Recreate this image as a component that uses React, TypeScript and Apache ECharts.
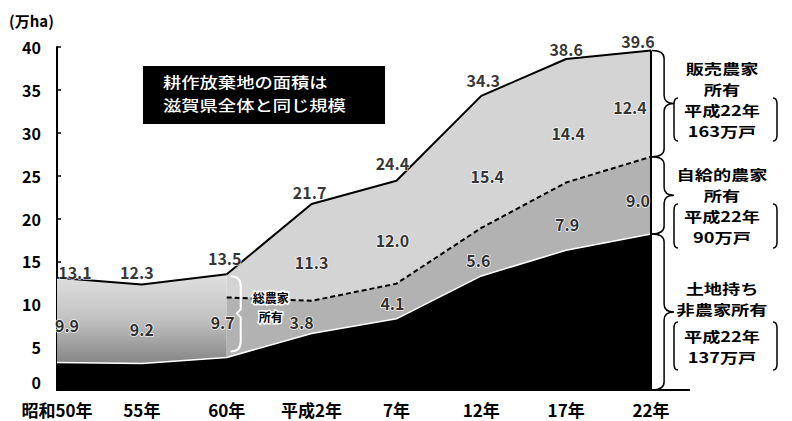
import React, { useEffect, useRef } from "react";
import * as echarts from "echarts";

const categories = ["昭和50年", "55年", "60年", "平成2年", "7年", "12年", "17年", "22年"];
const totalArea = [13.1, 12.3, 13.5, 21.7, 24.4, 34.3, 38.6, 39.6];
const nonFarmArea = [3.2, 3.1, 3.8, 6.6, 8.3, 13.3, 16.3, 18.2];
const allFarmArea: (number | null)[] = [9.9, 9.2, 9.7, null, null, null, null, null];
const subsistenceArea: (number | null)[] = [null, null, 7.0, 3.8, 4.1, 5.6, 7.9, 9.0];
const commercialArea: (number | null)[] = [null, null, 2.7, 11.3, 12.0, 15.4, 14.4, 12.4];
const yTicks = { min: 0, max: 40, interval: 5 };

// label offsets (style only)
const totalOffsets = [[18, -6], [-5, -13], [-2, -16], [-2, -12], [-4, -18], [2, -16], [0, -10], [-13, -9]];
const allFarmOffsets = [[10, 5], [0, 5], [-4, 6]];
const subsOffsets: Record<number, number[]> = { 3: [-10, 5], 4: [-4, 2], 5: [-3, 8], 6: [1, 8], 7: [-13, 5] };
const commOffsets: Record<number, number[]> = { 3: [0, 10], 4: [-4, 8], 5: [6, 14], 6: [2, 12], 7: [-21, 3] };

const JP = '"Noto Sans CJK JP", "Noto Sans CJK SC", sans-serif';

const Brace = echarts.graphic.extendShape({
  shape: { x: 0, y1: 0, y2: 0, w: 20, dir: 1 },
  buildPath(ctx: any, s: any) {
    const { x, y1, y2, w, dir } = s;
    const m = (y1 + y2) / 2;
    const r = Math.min(8, (y2 - y1) / 6);
    const xb = x + dir * w * 0.55;
    const xt = x + dir * w;
    ctx.moveTo(x, y1);
    ctx.quadraticCurveTo(xb, y1, xb, y1 + r);
    ctx.lineTo(xb, m - r);
    ctx.quadraticCurveTo(xb, m, xt, m);
    ctx.quadraticCurveTo(xb, m, xb, m + r);
    ctx.lineTo(xb, y2 - r);
    ctx.quadraticCurveTo(xb, y2, x, y2);
  },
});
echarts.graphic.registerShape("brace", Brace);

const Paren = echarts.graphic.extendShape({
  shape: { x: 0, y1: 0, y2: 0, dir: 1 },
  buildPath(ctx: any, s: any) {
    const { x, y1, y2, dir } = s;
    const r = 6;
    ctx.moveTo(x + dir * 4, y1);
    ctx.quadraticCurveTo(x, y1, x, y1 + r);
    ctx.lineTo(x, y2 - r);
    ctx.quadraticCurveTo(x, y2, x + dir * 4, y2);
  },
});
echarts.graphic.registerShape("paren", Paren);

const NotchEdge = echarts.graphic.extendShape({
  shape: { x: 0, y1: 0, y2: 0, r: 8, n: 5, ym: 0 },
  buildPath(ctx: any, s: any) {
    const { x, y1, y2, r, n, ym } = s;
    ctx.moveTo(x - r, y1);
    ctx.quadraticCurveTo(x, y1, x, y1 + r);
    ctx.lineTo(x, ym - n);
    ctx.lineTo(x - n, ym);
    ctx.lineTo(x, ym + n);
    ctx.lineTo(x, y2 - r);
    ctx.quadraticCurveTo(x, y2, x - r, y2);
  },
});
echarts.graphic.registerShape("notchEdge", NotchEdge);

const valueLabel = {
  show: true,
  position: "inside",
  fontFamily: JP,
  fontWeight: "bold",
  fontSize: 16,
  color: "#000",
  textBorderColor: "#fff",
  textBorderWidth: 1.5,
};

function buildLabelData() {
  const items: any[] = [];
  categories.forEach((c, i) => {
    items.push({ value: [c, totalArea[i]], label: { formatter: totalArea[i].toFixed(1), offset: totalOffsets[i] } });
    const a = allFarmArea[i];
    if (a != null) {
      items.push({ value: [c, nonFarmArea[i] + a / 2], label: { formatter: a.toFixed(1), offset: allFarmOffsets[i] } });
    }
    const s = subsistenceArea[i];
    const m = commercialArea[i];
    if (s != null && subsOffsets[i]) {
      items.push({ value: [c, nonFarmArea[i] + s / 2], label: { formatter: s.toFixed(1), offset: subsOffsets[i] } });
    }
    if (s != null && m != null && commOffsets[i]) {
      items.push({ value: [c, nonFarmArea[i] + s + m / 2], label: { formatter: m.toFixed(1), offset: commOffsets[i] } });
    }
  });
  return items;
}

const last = categories.length - 1;

const option: any = {
  animation: false,
  backgroundColor: "#fff",
  grid: { left: 57, right: 141, top: 47, bottom: 31, containLabel: false },
  xAxis: {
    type: "category",
    data: categories,
    boundaryGap: false,
    axisLine: { show: true, lineStyle: { color: "#000", width: 2 } },
    axisTick: { show: false },
    axisLabel: { interval: 0, margin: 11, fontFamily: JP, fontWeight: "bold", fontSize: 17, color: "#000" },
    splitLine: { show: false },
  },
  yAxis: {
    type: "value",
    min: yTicks.min,
    max: yTicks.max,
    interval: yTicks.interval,
    axisLine: { show: true, lineStyle: { color: "#000", width: 2 } },
    axisTick: { show: true, inside: true, length: 4, lineStyle: { color: "#000", width: 1.5 } },
    axisLabel: {
      margin: 16,
      fontFamily: JP,
      fontWeight: "bold",
      fontSize: 16,
      color: "#000",
      formatter: (v: number) => (v === 0 ? "{z|0}" : String(v)),
      rich: { z: { fontFamily: JP, fontWeight: "bold", fontSize: 16, color: "#000", padding: [0, 0, 16, 0] } },
    },
    splitLine: { show: false },
  },
  series: [
    {
      name: "土地持ち非農家所有",
      type: "line",
      stack: "B",
      data: nonFarmArea,
      symbol: "none",
      z: 4,
      lineStyle: { color: "#fff", width: 1.5 },
      areaStyle: { color: "#000", opacity: 1 },
    },
    {
      name: "base",
      type: "line",
      stack: "A",
      data: nonFarmArea.map((v, i) => (allFarmArea[i] != null ? v : null)),
      symbol: "none",
      silent: true,
      lineStyle: { opacity: 0, width: 0 },
    },
    {
      name: "総農家所有",
      type: "line",
      stack: "A",
      data: allFarmArea,
      symbol: "none",
      z: 3,
      lineStyle: { color: "#000", width: 2 },
      areaStyle: {
        opacity: 1,
        color: new echarts.graphic.LinearGradient(0, 0, 0, 1, [
          { offset: 0, color: "#e0e0e0" },
          { offset: 0.5, color: "#c2c2c2" },
          { offset: 1, color: "#858585" },
        ]),
      },
    },
    {
      name: "自給的農家所有",
      type: "line",
      stack: "B",
      data: subsistenceArea,
      symbol: "none",
      z: 3,
      lineStyle: { color: "#000", width: 2, type: [5, 3] },
      areaStyle: { color: "#b2b2b2", opacity: 1 },
    },
    {
      name: "販売農家所有",
      type: "line",
      stack: "B",
      data: commercialArea,
      symbol: "none",
      z: 2,
      lineStyle: { color: "#000", width: 2 },
      areaStyle: { color: "#d4d4d4", opacity: 1 },
    },
    {
      name: "labels",
      type: "scatter",
      symbolSize: 1,
      silent: true,
      z: 10,
      itemStyle: { color: "transparent" },
      label: valueLabel,
      data: buildLabelData(),
      markLine: {
        silent: true,
        symbol: ["none", "none"],
        label: { show: false },
        lineStyle: { color: "#000", width: 2, type: "solid" },
        data: [[{ coord: [categories[last], 0] }, { coord: [categories[last], totalArea[last]] }]],
      },
    },
  ],
};

function sideText(text: string, x: number, y: number) {
  return {
    type: "text",
    x,
    y,
    z: 20,
    scaleX: 1.3,
    style: { text, fontFamily: JP, fontWeight: "bold", fontSize: 14, fill: "#000", align: "center", verticalAlign: "middle" },
  };
}

export default function App() {
  const ref = useRef<HTMLDivElement>(null);
  useEffect(() => {
    const el = ref.current!;
    const chart = echarts.init(el, null, { renderer: "svg", width: 792, height: 421 });
    chart.setOption(option);
    const py = (v: number) => chart.convertToPixel({ yAxisIndex: 0 }, v) as number;
    const px = (c: string) => chart.convertToPixel({ xAxisIndex: 0 }, c) as number;
    const xR = px(categories[last]);
    const yTop = py(totalArea[last]);
    const yMid1 = py(nonFarmArea[last] + (subsistenceArea[last] as number));
    const yMid2 = py(nonFarmArea[last]);
    const yBot = py(0);
    const x60 = px(categories[2]);
    const braceStyle = { stroke: "#000", lineWidth: 1.5, fill: "none" };
    const parenStyle = { stroke: "#000", lineWidth: 1.5, fill: "none" };
    const cx = 722;
    const smallStyle = { fontFamily: JP, fontWeight: "bold", fontSize: 12, fill: "#000", stroke: "#fff", lineWidth: 3, align: "center", verticalAlign: "middle" };
    const boxText = { fontFamily: JP, fontWeight: 500, fontSize: 15, fill: "#fff", verticalAlign: "middle" };
    const graphic: any[] = [
      { type: "text", x: 9, y: 20, style: { text: "(万ha)", fontFamily: JP, fontWeight: "bold", fontSize: 15, fill: "#000", verticalAlign: "middle" } },
      { type: "rect", shape: { x: 143, y: 66, width: 242, height: 58 }, style: { fill: "#000" } },
      { type: "text", x: 163, y: 81.5, scaleX: 1.22, style: { ...boxText, text: "耕作放棄地の面積は" } },
      { type: "text", x: 163, y: 104.5, scaleX: 1.22, style: { ...boxText, text: "滋賀県全体と同じ規模" } },
      { type: "line", shape: { x1: xR, y1: yBot, x2: 690, y2: yBot }, style: { stroke: "#000", lineWidth: 2 } },
      { type: "brace", z: 20, shape: { x: xR + 1, y1: yTop, y2: yMid1, w: 22, dir: 1 }, style: braceStyle },
      { type: "brace", z: 20, shape: { x: xR + 1, y1: yMid1, y2: yMid2, w: 22, dir: 1 }, style: braceStyle },
      { type: "brace", z: 20, shape: { x: xR + 1, y1: yMid2, y2: yBot, w: 22, dir: 1 }, style: braceStyle },
      sideText("販売農家", cx, 67.5),
      sideText("所有", cx, 88.5),
      sideText("平成22年", cx, 109.5),
      sideText("163万戸", cx, 130.5),
      { type: "paren", z: 20, shape: { x: 674, y1: 98, y2: 141, dir: 1 }, style: parenStyle },
      { type: "paren", z: 20, shape: { x: 777, y1: 98, y2: 141, dir: -1 }, style: parenStyle },
      sideText("自給的農家", cx, 173.5),
      sideText("所有", cx, 194.5),
      sideText("平成22年", cx, 215.5),
      sideText("90万戸", cx, 236.5),
      { type: "paren", z: 20, shape: { x: 674, y1: 204, y2: 248, dir: 1 }, style: parenStyle },
      { type: "paren", z: 20, shape: { x: 777, y1: 204, y2: 248, dir: -1 }, style: parenStyle },
      sideText("土地持ち", cx, 287.5),
      sideText("非農家所有", cx, 308.5),
      sideText("平成22年", cx, 335.5),
      sideText("137万戸", cx, 356.5),
      { type: "paren", z: 20, shape: { x: 674, y1: 322, y2: 370, dir: 1 }, style: parenStyle },
      { type: "paren", z: 20, shape: { x: 777, y1: 322, y2: 370, dir: -1 }, style: parenStyle },
      {
        type: "notchEdge",
        z: 20,
        shape: { x: x60 + 14, y1: py(totalArea[2]) + 2, y2: py(nonFarmArea[2]) - 6, r: 10, n: 4, ym: py(nonFarmArea[2]) - 44 },
        style: { stroke: "#fff", lineWidth: 2, fill: "none" },
      },
      { type: "text", x: x60 + 44, y: 297, z: 20, style: { ...smallStyle, text: "総農家" } },
      { type: "text", x: x60 + 44, y: 316, z: 20, style: { ...smallStyle, text: "所有" } },
    ];
    chart.setOption({ graphic });
    return () => chart.dispose();
  }, []);
  return <div ref={ref} style={{ position: "fixed", left: 0, top: 0, width: 792, height: 421, background: "#fff" }} />;
}
